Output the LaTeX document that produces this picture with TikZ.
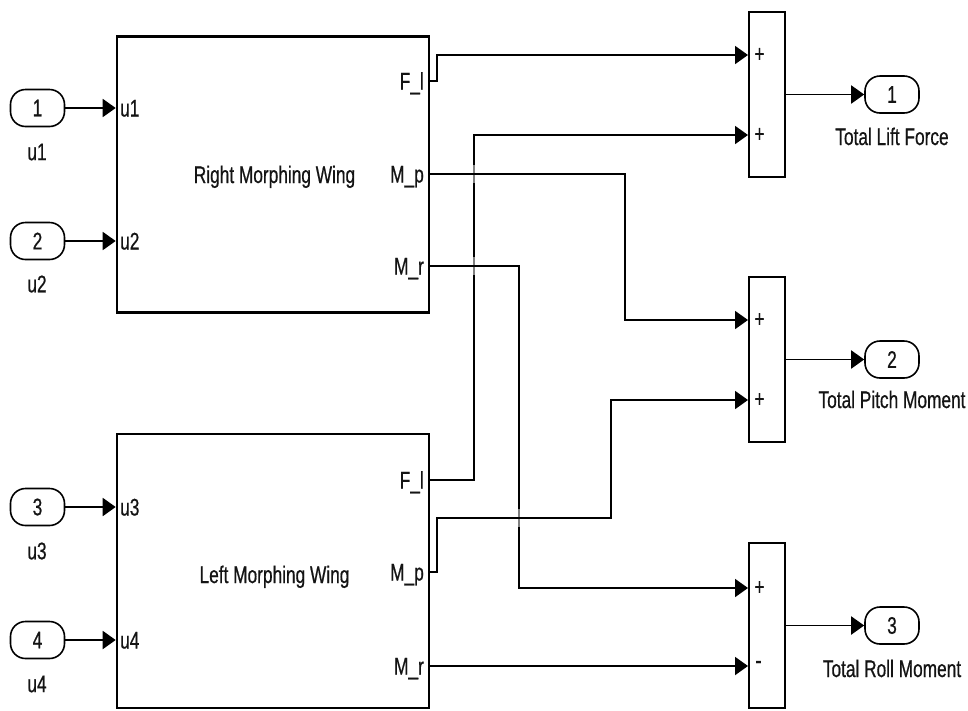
\documentclass[tikz,border=0pt]{standalone}
\usepackage{fontspec}
\setmainfont{Liberation Sans}[FakeStretch=0.72, FakeBold=0.6]
\usetikzlibrary{arrows.meta}

\begin{document}
\begin{tikzpicture}[x=1pt,y=-1pt,
  every node/.style={font=\fontsize{24}{28}\selectfont, inner sep=0pt, text=black!92},
  wingblock/.style={draw, line width=2.6pt, minimum width=312pt, minimum height=276pt},
  sumblock/.style={draw, line width=2pt, minimum width=36pt, minimum height=165pt},
  portpill/.style={draw, line width=1.6pt, rounded corners=15pt, minimum width=54pt, minimum height=37pt},
  sig/.style={line width=1.9pt},
  sigarrow/.style={sig, -{Triangle[length=13pt,width=18pt]}},
  plabel/.style={anchor=base west},
  qlabel/.style={anchor=base east},
]
\useasboundingbox[fill=white] (0,0) rectangle (968,710);

% subsystems
\node[wingblock] (rw) at (273,174.5) {};
\node[wingblock, minimum height=274pt] (lw) at (273,571) {};
\node[anchor=base] (rwtitle) at (274.5,183) {Right Morphing Wing};
\node[anchor=base] (lwtitle) at (274.5,583) {Left Morphing Wing};

% sum blocks
\node[sumblock] (s1) at (767,94.5) {};
\node[sumblock] (s2) at (767,359.5) {};
\node[sumblock] (s3) at (767,625.5) {};

% inports
\node[portpill] (in1) at (37.5,108) {1};
\node[portpill] (in2) at (37.5,241) {2};
\node[portpill] (in3) at (37.5,507) {3};
\node[portpill] (in4) at (37.5,640) {4};
\node (in1l) at (37,152) {u1};
\node (in2l) at (37,284) {u2};
\node (in3l) at (37,551) {u3};
\node (in4l) at (37,684) {u4};

% outports
\node[portpill] (out1) at (892,94.5) {1};
\node[portpill] (out2) at (892,359.5) {2};
\node[portpill] (out3) at (892,625.5) {3};
\node[anchor=base] (out1l) at (892,145) {Total Lift Force};
\node[anchor=base] (out2l) at (892,408) {Total Pitch Moment};
\node[anchor=base] (out3l) at (892,677) {Total Roll Moment};

% subsystem port labels
\node[plabel] (rwu1) at (120,116.5) {u1};
\node[plabel] (rwu2) at (120,249.5) {u2};
\node[plabel] (lwu3) at (120,515.5) {u3};
\node[plabel] (lwu4) at (120,648.5) {u4};
\node[qlabel] (rwFlt) at (424,89.5) {F\_l};
\node[qlabel] (rwMpt) at (424,182.5) {M\_p};
\node[qlabel] (rwMrt) at (424,274.5) {M\_r};
\node[qlabel] (lwFlt) at (424,488.5) {F\_l};
\node[qlabel] (lwMpt) at (424,580.5) {M\_p};
\node[qlabel] (lwMrt) at (424,674.5) {M\_r};

% sum signs
\node (s1p1) at (759.5,55) {+};
\node (s1p2) at (759.5,135) {+};
\node (s2p1) at (759.5,320) {+};
\node (s2p2) at (759.5,400) {+};
\node (s3p1) at (759.5,588) {+};
\node[font=\fontsize{26}{28}\selectfont] (s3m2) at (758.5,665) {-};

% port coordinates
\coordinate (rwFl) at (430.3,81);
\coordinate (rwMp) at (430.3,174);
\coordinate (rwMr) at (430.3,266);
\coordinate (lwFl) at (430.3,480);
\coordinate (lwMp) at (430.3,572);
\coordinate (lwMr) at (430.3,666);
\coordinate (s1a) at (748,55);
\coordinate (s1b) at (748,135);
\coordinate (s2a) at (748,320);
\coordinate (s2b) at (748,400);
\coordinate (s3a) at (748,588);
\coordinate (s3b) at (748,666);

% input signals
\foreach \p in {1,2}
  \draw[sigarrow] (in\p.east) -- (in\p.east -| rw.west);
\foreach \p in {3,4}
  \draw[sigarrow] (in\p.east) -- (in\p.east -| lw.west);

% wing outputs to the sums
\draw[sigarrow] (rwFl) -- ++(7,0) |- (s1a);
\draw[sigarrow] (lwFl) -- ++(44,0) |- (s1b);
\draw[sigarrow] (rwMp) -- ++(195,0) |- (s2a);
\draw[sigarrow] (lwMp) -- ++(7,0) -- ++(0,-54) -- ++(174,0) |- (s2b);
\draw[sigarrow] (rwMr) -- ++(89,0) |- (s3a);
\draw[sigarrow] (lwMr) -- (s3b);

% line crossings: the vertical line fades where it passes a horizontal one
\foreach \cx/\cy in {474/174, 474/266, 519/518} {
  \fill[white, opacity=0.5] (\cx-3,\cy-9) rectangle (\cx+3,\cy+9);
  \draw[sig] (\cx-8,\cy) -- (\cx+8,\cy);
}

% sum outputs
\draw[sigarrow] (s1.east) -- (out1.west);
\draw[sigarrow] (s2.east) -- (out2.west);
\draw[sigarrow] (s3.east) -- (out3.west);
\end{tikzpicture}
\end{document}
